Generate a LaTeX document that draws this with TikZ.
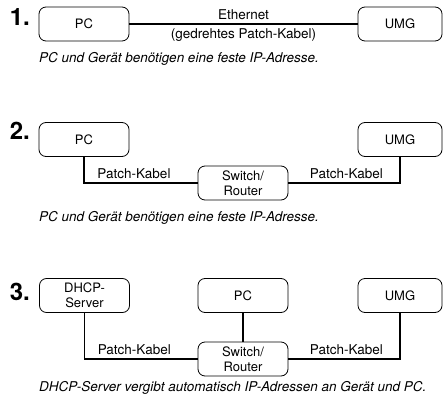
\documentclass[tikz,border=0pt]{standalone}
\usepackage{fontspec}
\setmainfont{TeX Gyre Heros}
\begin{document}
\begin{tikzpicture}[x=1pt, y=-1pt,
                    device/.style={draw, line width=0.8pt, rounded corners=7pt, minimum width=90pt,
                                   minimum height=34pt, inner sep=0pt, align=center,
                                   font=\fontsize{13}{14.5}\selectfont},
                    cable/.style={line width=1.1pt},
                    cable text/.style={inner sep=4pt, font=\fontsize{13.5}{15}\selectfont},
                    step number/.style={anchor=base east, inner sep=0pt, font=\fontsize{24}{24}\selectfont\bfseries},
                    caption text/.style={anchor=base west, inner sep=0pt, font=\fontsize{13.5}{15}\selectfont\itshape}]

  \useasboundingbox (0,0) rectangle (443,395);

  % 1. direct connection
  \node[step number] (n1) at (30,26) {1.};
  \node[device] (pc1) at (84,24) {PC};
  \node[device, minimum width=84pt] (umg1) at (400,24) {UMG};
  \node[caption text] (c1) at (39,63) {PC und Gerät benötigen eine feste IP-Adresse.};

  \draw[cable] (pc1) -- node[cable text, above] {Ethernet}
                        node[cable text, below] {(gedrehtes Patch-Kabel)} (umg1);

  % 2. over switch
  \node[step number] (n2) at (30,140) {2.};
  \node[device] (pc2) at (84,139.5) {PC};
  \node[device, minimum width=84pt] (umg2) at (400,139.5) {UMG};
  \node[device] (sw2) at (243,183) {Switch/\\Router};
  \node[caption text] (c2) at (39,221) {PC und Gerät benötigen eine feste IP-Adresse.};

  \draw[cable] (pc2) |- node[cable text, above, pos=0.72] {Patch-Kabel} (sw2);
  \draw[cable] (sw2) -| node[cable text, above, pos=0.26] {Patch-Kabel} (umg2);

  % 3. with DHCP server
  \node[step number] (n3) at (30,300) {3.};
  \node[device] (dhcp3) at (84.5,295.5) {DHCP-\\Server};
  \node[device] (pc3) at (243,295.5) {PC};
  \node[device, minimum width=84pt] (umg3) at (400,295.5) {UMG};
  \node[device] (sw3) at (243,359) {Switch/\\Router};
  \node[caption text] (c3) at (39,391) {DHCP-Server vergibt automatisch IP-Adressen an Gerät und PC.};

  \draw[cable] (dhcp3) |- node[cable text, above, pos=0.72] {Patch-Kabel} (sw3);
  \draw[cable] (pc3) -- (sw3);
  \draw[cable] (sw3) -| node[cable text, above, pos=0.26] {Patch-Kabel} (umg3);

\end{tikzpicture}
\end{document}
